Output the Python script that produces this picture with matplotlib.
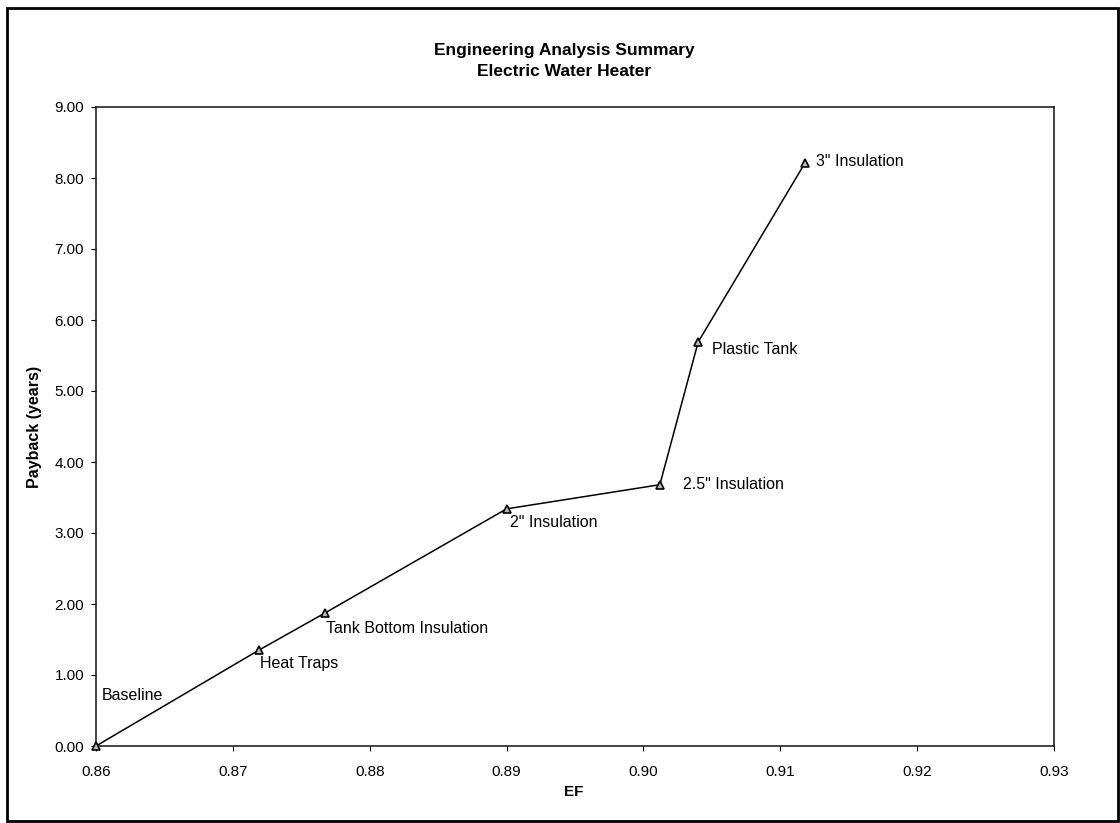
import matplotlib
matplotlib.use('Agg')
import matplotlib.pyplot as plt
from matplotlib.patches import Rectangle

plt.rcParams['font.family'] = ['Liberation Sans', 'DejaVu Sans']

# data
ef = [0.860, 0.8719, 0.8767, 0.8900, 0.9012, 0.9040, 0.9118]
payback = [0.00, 1.35, 1.87, 3.34, 3.68, 5.69, 8.21]
names = ['Baseline', 'Heat Traps', 'Tank Bottom Insulation', '2" Insulation',
         '2.5" Insulation', 'Plastic Tank', '3" Insulation']
# label offsets in pixels from each point
offs = [(6, 51), (1, -13), (1, -15), (3, -14), (23, 0), (14, -7), (11, 2)]

xticks = [0.86, 0.87, 0.88, 0.89, 0.90, 0.91, 0.92, 0.93]
yticks = [0, 1, 2, 3, 4, 5, 6, 7, 8, 9]

fig = plt.figure(figsize=(11.2, 8.23), dpi=100)
ax = fig.add_axes([96/1120, 1-746/823, 958/1120, 639/823])

ax.plot(ef, payback, color='black', lw=1.1, marker='^', ms=5.5,
        mfc='#bbbbbb', mec='black', mew=1.2, clip_on=False, zorder=3)

for x, y, t, o in zip(ef, payback, names, offs):
    ax.annotate(t, (x, y), xytext=o, textcoords='offset pixels',
                ha='left', va='center', fontsize=11.5)

ax.set_xlim(0.86, 0.93)
ax.set_ylim(0, 9)
ax.set_xticks(xticks)
ax.set_yticks(yticks)
ax.set_xticklabels(['%.2f' % v for v in xticks])
ax.set_yticklabels(['%.2f' % v for v in yticks])
ax.tick_params(axis='x', direction='out', length=3.5, width=0.8, pad=10, labelsize=11)
ax.tick_params(axis='y', direction='out', length=3.5, width=0.8, pad=5, labelsize=11)
for s in ax.spines.values():
    s.set_linewidth(1.2)
    s.set_color('#222222')

fig.text(564/1120, 1-50/823, 'Engineering Analysis Summary', ha='center', va='center',
         fontsize=12.5, fontweight='bold')
fig.text(564/1120, 1-72/823, 'Electric Water Heater', ha='center', va='center',
         fontsize=12.5, fontweight='bold')
fig.text(35/1120, 1-427/823, 'Payback (years)', rotation=90, ha='center', va='center',
         fontsize=11.5, fontweight='bold')
fig.text(574/1120, 1-792/823, 'EF', ha='center', va='center',
         fontsize=11, fontweight='bold')

# outer frame
fig.patches.append(Rectangle((7/1120, 1-821/823), 1111/1120, 813/823,
                             transform=fig.transFigure, fill=False,
                             lw=2.0, ec='black'))

fig.savefig('out.png', dpi=100)
